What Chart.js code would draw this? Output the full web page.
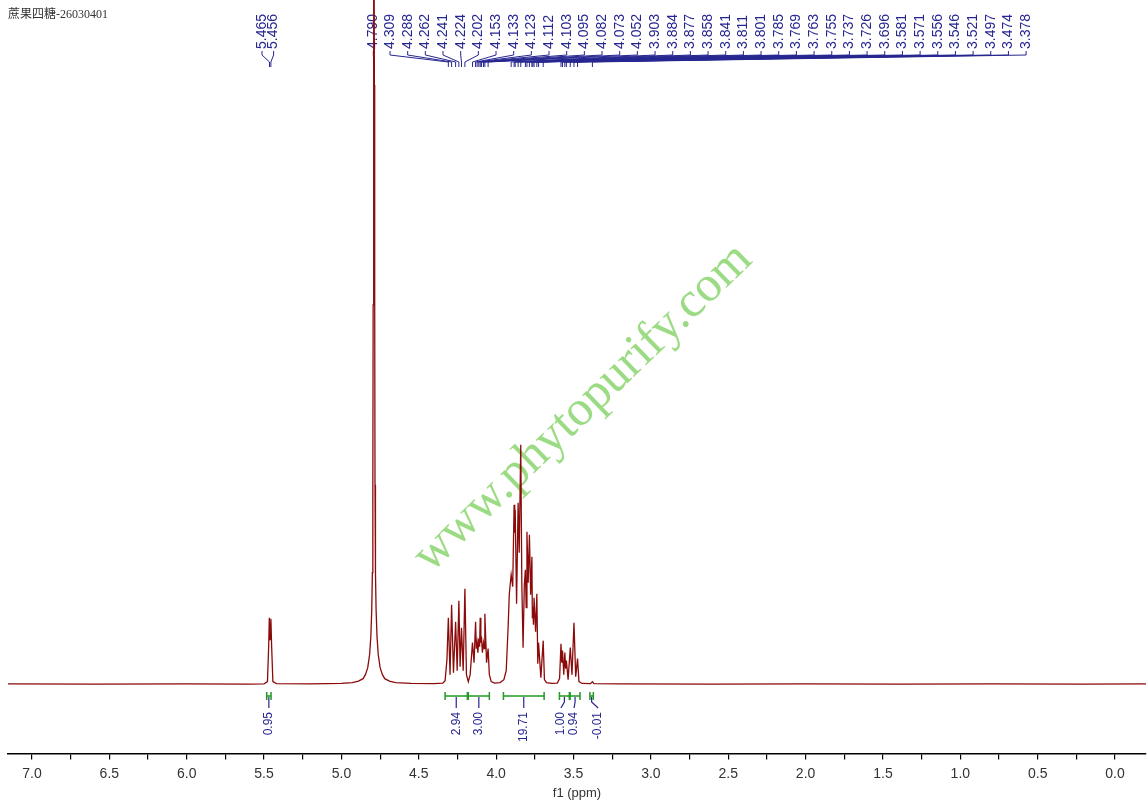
<!DOCTYPE html>
<html>
  <head>
    <title>1H NMR 蔗果四糖</title>
    <script src="https://cdn.jsdelivr.net/npm/chart.js"></script>
    <style>
      body { margin: 0; background: #fff; }
      #wrap { width: 1148px; height: 802px; position: relative; }
    </style>
  </head>
  <body>
    <div id="wrap"><canvas id="nmrChart"></canvas></div>

    <script>
      // spectrum trace: ppm and height (above baseline)
      const specPpm = [
        7.16, 6.6, 6.0, 5.6, 5.5, 5.478, 5.47, 5.466, 5.461, 5.456, 5.451, 5.443, 5.42, 5.2,
        5.0, 4.93, 4.89, 4.86, 4.845, 4.83, 4.818, 4.81, 4.804, 4.8, 4.797, 4.795, 4.793,
        4.79, 4.787, 4.785, 4.783, 4.78, 4.776, 4.77, 4.762, 4.75, 4.735, 4.72, 4.69, 4.65,
        4.55, 4.4, 4.345, 4.33, 4.318, 4.309, 4.298, 4.288, 4.276, 4.262, 4.252, 4.241,
        4.233, 4.224, 4.213, 4.202, 4.192, 4.18, 4.168, 4.153, 4.143, 4.133, 4.128, 4.123,
        4.118, 4.112, 4.107, 4.103, 4.099, 4.095, 4.089, 4.082, 4.077, 4.073, 4.062, 4.052,
        4.044, 4.032, 4.01, 3.975, 3.95, 3.935, 3.922, 3.915, 3.903, 3.893, 3.884, 3.88,
        3.877, 3.868, 3.858, 3.851, 3.841, 3.834, 3.826, 3.818, 3.811, 3.806, 3.801, 3.793,
        3.785, 3.777, 3.769, 3.766, 3.763, 3.759, 3.755, 3.745, 3.737, 3.731, 3.726, 3.711,
        3.696, 3.688, 3.675, 3.64, 3.605, 3.59, 3.581, 3.576, 3.571, 3.563, 3.556, 3.551,
        3.546, 3.535, 3.521, 3.51, 3.497, 3.486, 3.474, 3.465, 3.445, 3.39, 3.378, 3.368,
        3.2, 2.6, 2.0, 1.4, 0.8, 0.2, -0.2
      ];
      const specHeight = [
        0.8, 0.6, 0.8, 0.6, 0.8, 3, 40, 67, 45, 66, 38, 3, 1, 0.8,
        1.2, 2, 3.5, 6, 10, 17, 30, 48, 75, 112, 200, 380, 600,
        900, 600, 380, 200, 112, 75, 48, 30, 17, 10, 6, 3.5, 2,
        1.2, 1, 1.5, 4, 25, 67, 10, 80, 12, 63, 14, 84,
        18, 57, 14, 96, 10, 3, 10, 42, 22, 63, 36, 42,
        32, 46, 38, 67, 42, 48, 32, 42, 36, 71, 22, 36,
        10, 3, 1.5, 2, 5, 14, 60, 91, 110, 98, 180, 152,
        175, 81, 182, 132, 240, 100, 37, 100, 115, 77, 153, 102,
        150, 90, 128, 67, 78, 60, 87, 53, 91, 21, 42, 7,
        44, 5, 2, 1.2, 1.5, 6, 41, 22, 34, 10, 32, 16,
        24, 5, 37, 10, 62, 8, 26, 3, 1.2, 1, 3, 1,
        0.8, 0.6, 0.8, 0.6, 0.8, 0.6, 0.8
      ];

      // peak picking labels
      const peakPpm = [
        5.465, 5.456, 4.790,
        4.309, 4.288, 4.262, 4.241, 4.224, 4.202, 4.153, 4.133, 4.123, 4.112, 4.103,
        4.095, 4.082, 4.073, 4.052, 3.903, 3.884, 3.877, 3.858, 3.841, 3.811, 3.801,
        3.785, 3.769, 3.763, 3.755, 3.737, 3.726, 3.696, 3.581, 3.571, 3.556, 3.546,
        3.521, 3.497, 3.474, 3.378
      ];

      // integrals
      const integralFrom = [5.483, 4.330, 4.180, 3.953, 3.591, 3.522, 3.394];
      const integralTo = [5.455, 4.186, 4.044, 3.690, 3.527, 3.458, 3.372];
      const integralValue = [0.95, 2.94, 3.00, 19.71, 1.00, 0.94, -0.01];

      const titleText = '蔗果四糖-26030401';
      const watermark = 'www.phytopurify.com';

      // label layout (pixels)
      const labelGroups = [
        { from: 0, to: 1, x0: 262, step: 11.6 },
        { from: 2, to: 2, x0: 373.3, step: 0 },
        { from: 3, to: 39, x0: 390, step: 17.67 },
      ];
      const integralLabelShift = [0, 0, 0, 0, -3.5, -1, 6.5];

      const sans = '"Liberation Sans", Arial, sans-serif';
      const blue = '#262690';
      const green = '#229922';

      const annotations = {
        id: 'annotations',
        beforeDatasetsDraw(chart) {
          const ctx = chart.ctx;
          const x = chart.scales.x;

          // watermark
          ctx.save();
          ctx.translate(583, 408);
          ctx.rotate((-44 * Math.PI) / 180);
          ctx.font = '50px "Liberation Serif", "DejaVu Serif", serif';
          ctx.fillStyle = 'rgba(130, 210, 100, 0.8)';
          ctx.textAlign = 'center';
          ctx.textBaseline = 'middle';
          ctx.fillText(watermark, 0, 0);
          ctx.restore();

          // title
          ctx.save();
          ctx.font = '12px "Liberation Serif", "Noto Sans CJK SC", serif';
          ctx.fillStyle = '#333';
          ctx.textBaseline = 'top';
          ctx.fillText(titleText, 8, 9);
          ctx.restore();

          // peak labels
          ctx.save();
          ctx.strokeStyle = blue;
          ctx.fillStyle = blue;
          ctx.lineWidth = 1;
          ctx.font = '14px ' + sans;
          labelGroups.forEach((g) => {
            for (let i = g.from; i <= g.to; i++) {
              const lx = g.x0 + (i - g.from) * g.step;
              const px = x.getPixelForValue(peakPpm[i]);
              ctx.beginPath();
              ctx.moveTo(lx, 51);
              ctx.lineTo(lx, 55);
              ctx.lineTo(px, 62);
              ctx.lineTo(px, 67);
              ctx.stroke();
              ctx.save();
              ctx.translate(lx, 49);
              ctx.rotate(-Math.PI / 2);
              ctx.textAlign = 'left';
              ctx.textBaseline = 'middle';
              ctx.fillText(peakPpm[i].toFixed(3), 0, 0);
              ctx.restore();
            }
          });
          ctx.restore();

          // integrals
          ctx.save();
          ctx.font = '12px ' + sans;
          for (let i = 0; i < integralFrom.length; i++) {
            const a = x.getPixelForValue(integralFrom[i]);
            const b = x.getPixelForValue(integralTo[i]);
            const c = (a + b) / 2;
            const lx = c + integralLabelShift[i];
            ctx.strokeStyle = green;
            ctx.lineWidth = 1.5;
            ctx.beginPath();
            ctx.moveTo(a, 696);
            ctx.lineTo(b, 696);
            ctx.moveTo(a, 692);
            ctx.lineTo(a, 700);
            ctx.moveTo(b, 692);
            ctx.lineTo(b, 700);
            ctx.stroke();
            ctx.strokeStyle = blue;
            ctx.lineWidth = 1.2;
            ctx.beginPath();
            ctx.moveTo(c, 697);
            ctx.lineTo(c, 702);
            ctx.lineTo(lx, 708);
            ctx.stroke();
            ctx.save();
            ctx.translate(lx, 712);
            ctx.rotate(-Math.PI / 2);
            ctx.fillStyle = blue;
            ctx.textAlign = 'right';
            ctx.textBaseline = 'middle';
            ctx.fillText(integralValue[i].toFixed(2), 0, 0);
            ctx.restore();
          }
          ctx.restore();
        },
      };

      const ctx = document.getElementById('nmrChart').getContext('2d');
      const chart = new Chart(ctx, {
        type: 'line',
        data: {
          datasets: [
            {
              data: specPpm.map((p, i) => ({ x: p, y: specHeight[i] })),
              borderColor: '#8b0a0a',
              borderWidth: 1.3,
              pointRadius: 0,
              tension: 0,
              fill: false,
            },
          ],
        },
        options: {
          responsive: true,
          maintainAspectRatio: false,
          animation: false,
          layout: { padding: { left: 8, right: 2, top: 0, bottom: 1 } },
          plugins: {
            legend: { display: false },
            tooltip: { enabled: false },
          },
          scales: {
            x: {
              type: 'linear',
              reverse: true,
              min: -0.2,
              max: 7.155,
              grid: {
                drawOnChartArea: false,
                drawTicks: true,
                tickLength: 6,
                color: '#000',
                lineWidth: 1.2,
              },
              border: { display: true, color: '#000', width: 1.5 },
              ticks: {
                stepSize: 0.25,
                autoSkip: false,
                maxRotation: 0,
                includeBounds: false,
                padding: 6,
                color: '#333',
                font: { size: 14, family: sans },
                callback: (v) =>
                  Math.abs(v * 2 - Math.round(v * 2)) < 1e-6 ? v.toFixed(1) : '',
              },
              title: {
                display: true,
                text: 'f1 (ppm)',
                color: '#333',
                font: { size: 13, family: sans },
                padding: { top: -3, bottom: 0 },
              },
            },
            y: { display: false, min: -69, max: 685 },
          },
        },
        plugins: [annotations],
      });
    </script>
  </body>
</html>
